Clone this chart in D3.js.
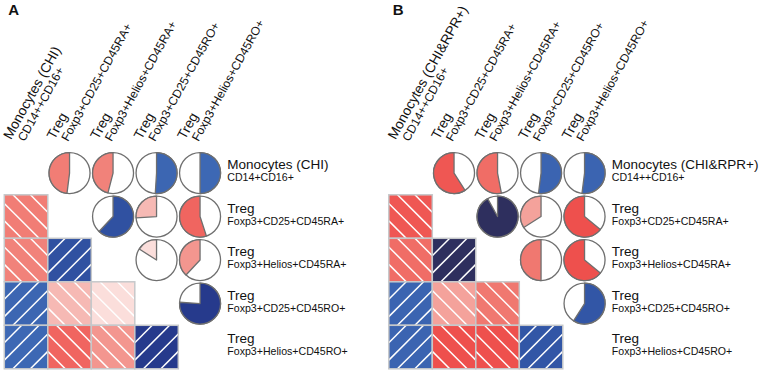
<!DOCTYPE html>
<html>
<head>
<meta charset="utf-8">
<script src="https://cdn.jsdelivr.net/npm/d3@7"></script>
<style>
  body { margin: 0; background: #fff; }
  text { font-family: "Liberation Sans", Arial, sans-serif; fill: #111; }
</style>
</head>
<body>
<div id="chart"></div>
<script>
// ---- data ----
var mainNamesA = ["Monocytes (CHI)", "Treg", "Treg", "Treg", "Treg"];
var mainNamesB = ["Monocytes (CHI&RPR+)", "Treg", "Treg", "Treg", "Treg"];
var topSubA = ["CD14++CD16+", "Foxp3+CD25+CD45RA+", "Foxp3+Helios+CD45RA+", "Foxp3+CD25+CD45RO+", "Foxp3+Helios+CD45RO+"];
var rowSubA = ["CD14+CD16+", "Foxp3+CD25+CD45RA+", "Foxp3+Helios+CD45RA+", "Foxp3+CD25+CD45RO+", "Foxp3+Helios+CD45RO+"];
var topSubB = ["CD14++CD16+", "Foxp3+CD25+CD45RA+", "Foxp3+Helios+CD45RA+", "Foxp3+CD25+CD45RO+", "Foxp3+Helios+CD45RO+"];
var rowSubB = ["CD14++CD16+", "Foxp3+CD25+CD45RA+", "Foxp3+Helios+CD45RA+", "Foxp3+CD25+CD45RO+", "Foxp3+Helios+CD45RO+"];

// upper triangle correlations (row i, col j > i); lower triangle mirrors them
var corrA = [
  [null, -0.48, -0.46, 0.51, 0.50],
  [null, null, 0.62, -0.26, -0.55],
  [null, null, null, -0.16, -0.38],
  [null, null, null, null, 0.76]
];
var corrB = [
  [null, -0.59, -0.53, 0.52, 0.52],
  [null, null, 0.92, -0.34, -0.64],
  [null, null, null, -0.50, -0.64],
  [null, null, null, null, 0.59]
];

var W = 764, H = 373;
var cell = 43.5, rad = 20.5;

var color = d3.scaleLinear()
  .domain([-1, -0.6, -0.5, -0.38, -0.26, -0.16, 0, 0.5, 0.6, 0.76, 0.92, 1])
  .range(["#e03030", "#ef5350", "#f07870", "#f3968f", "#f6b9b4", "#fbdedb", "#ffffff",
          "#3d68b4", "#3154a4", "#263a8c", "#2e2f5e", "#2a2a50"]);

var svg = d3.select("#chart").append("svg")
  .attr("width", W)
  .attr("height", H);

function draw_panel(letter, ox, oy, mainNames, topSub, rowSub, corr) {
  var n = mainNames.length;
  var x = d3.scaleBand().domain(d3.range(n)).range([ox, ox + n * cell]);
  var y = d3.scaleBand().domain(d3.range(n)).range([oy, oy + n * cell]);
  var g = svg.append("g");

  // panel letter
  g.append("text")
    .attr("x", ox + 4)
    .attr("y", 15)
    .style("font-size", "15px")
    .style("font-weight", "bold")
    .text(letter);

  // top (rotated) labels
  for (var c = 0; c < n; c++) {
    var tg = g.append("g")
      .attr("transform", "translate(" + (x(c) + cell / 2 - 15) + "," + (oy - 11) + ") rotate(-61)");
    tg.append("text").attr("x", 0).attr("y", 0)
      .style("font-size", "13.8px").text(mainNames[c]);
    tg.append("text").attr("x", 5).attr("y", 12.6)
      .style("font-size", "12px").text(topSub[c]);
  }

  // row labels
  for (var r = 0; r < n; r++) {
    var cy = y(r) + cell / 2;
    g.append("text").attr("x", ox + n * cell + 5.5).attr("y", cy - 4)
      .style("font-size", "13.5px").text(mainNames[r]);
    g.append("text").attr("x", ox + n * cell + 5.5).attr("y", cy + 8.3)
      .style("font-size", "10.6px").text(rowSub[r]);
  }

  var cells = [];
  for (var i = 0; i < n; i++) {
    for (var j = 0; j < n; j++) {
      if (i < j) cells.push({ row: i, col: j, v: corr[i][j], kind: "pie" });
      if (i > j) cells.push({ row: i, col: j, v: corr[j][i], kind: "shade" });
    }
  }

  // lower triangle: shaded squares
  var sq = g.selectAll("g.sq")
    .data(cells.filter(function (d) { return d.kind == "shade"; }))
    .enter().append("g")
    .attr("class", "sq")
    .attr("transform", function (d) { return "translate(" + x(d.col) + "," + y(d.row) + ")"; });

  sq.append("rect")
    .attr("width", cell).attr("height", cell)
    .attr("fill", function (d) { return color(d.v); });

  sq.each(function (d) {
    var s = cell;
    var offs = [-0.6, -0.2, 0.2, 0.6];
    var self = d3.select(this);
    offs.forEach(function (o) {
      var c = o * s, p;
      if (d.v < 0) {
        // "\" stripes
        p = c < 0 ? [-c, 0, s, s + c] : [0, c, s - c, s];
      } else {
        // "/" stripes
        var dd = s + c;
        p = dd < s ? [0, dd, dd, 0] : [dd - s, s, s, dd - s];
      }
      self.append("line")
        .attr("x1", p[0]).attr("y1", p[1]).attr("x2", p[2]).attr("y2", p[3])
        .attr("stroke", "#fff").attr("stroke-width", 1.5);
    });
  });

  sq.append("rect")
    .attr("width", cell).attr("height", cell)
    .attr("fill", "none")
    .attr("stroke", "#c6c8ca")
    .attr("stroke-width", 1.5);

  // upper triangle: pies
  var arc = d3.arc().innerRadius(0).outerRadius(rad);
  var pie = g.selectAll("g.pie")
    .data(cells.filter(function (d) { return d.kind == "pie"; }))
    .enter().append("g")
    .attr("class", "pie")
    .attr("transform", function (d) {
      return "translate(" + (x(d.col) + cell / 2) + "," + (y(d.row) + cell / 2) + ")";
    });

  pie.append("circle")
    .attr("r", rad)
    .attr("fill", "#fff")
    .attr("stroke", "#6f6f6f")
    .attr("stroke-width", 1.3);

  pie.append("path")
    .attr("d", function (d) {
      var a = d.v * 2 * Math.PI;
      return arc({ startAngle: Math.min(0, a), endAngle: Math.max(0, a) });
    })
    .attr("fill", function (d) { return color(d.v); })
    .attr("stroke", "#6f6f6f")
    .attr("stroke-width", 1.3)
    .attr("stroke-linejoin", "round");
}

draw_panel("A", 4.3, 151.3, mainNamesA, topSubA, rowSubA, corrA);
draw_panel("B", 388.8, 151.3, mainNamesB, topSubB, rowSubB, corrB);
</script>
</body>
</html>
